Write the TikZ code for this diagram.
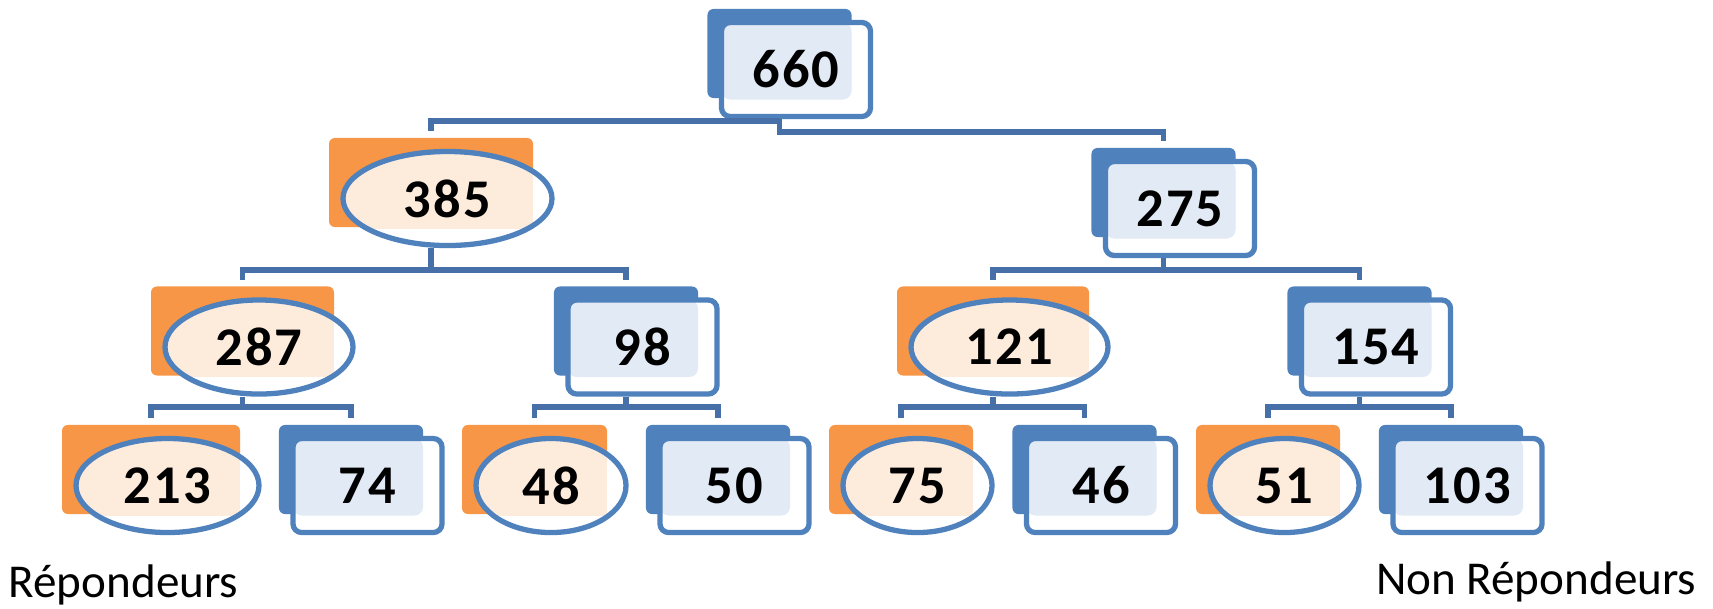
\documentclass[tikz,border=0pt]{standalone}
\usepackage{fontspec}
\setmainfont{Carlito}
\usetikzlibrary{shapes.geometric}
\definecolor{chartblue}{RGB}{79,129,189}
\definecolor{chartorange}{RGB}{247,150,70}
\definecolor{linkblue}{RGB}{70,112,167}
\definecolor{bluefill}{RGB}{226,234,245}
\definecolor{orangefill}{RGB}{253,235,220}
\tikzset{
  back/.style={rectangle, rounded corners=1.7pt, inner sep=0pt, minimum height=0.89cm},
  blue back/.style={back, fill=chartblue, minimum width=1.44cm},
  orange back/.style={back, fill=chartorange},
  front/.style={draw=chartblue, fill=white, inner sep=0pt, minimum height=0.94cm, line width=1.5pt,
    font=\bfseries\fontsize{15.5}{18}\selectfont\addfontfeature{LetterSpace=4},
    path picture={\fill[#1] (path picture bounding box.north west) rectangle ([shift={(-1.9mm,1.7mm)}]path picture bounding box.south east);}},
  blue front/.style={front=bluefill, rectangle, rounded corners=2.5pt, minimum width=1.49cm},
  orange front/.style={front=orangefill, ellipse},
  link/.style={draw=linkblue, line width=1.6pt},
  caption/.style={inner sep=0pt, font=\fontsize{13.4}{16}\selectfont}
}
\begin{document}
\begin{tikzpicture}[x=0.01cm, y=-0.01cm]
  \useasboundingbox (0,0) rectangle (1713,608);
  % blue units
  \foreach \n/\x/\y in {660/779.5/53.5, 275/1163.5/192.5, 98/626/331, 154/1359.5/331,
                        74/351/469.5, 50/718/469.5, 46/1084.5/469.5, 103/1451/469.5}{
    \node[blue back] (b\n) at (\x,\y) {};
    \node[blue front] (n\n) at ([shift={(16.5,16)}]b\n) {\n};
  }
  % orange units
  \foreach \n/\x/\y/\w in {385/431/182.5/204, 287/242.5/331/183, 121/993/331/192,
                           213/151/469.5/178, 48/534.5/469.5/145, 75/901/469.5/144, 51/1268/469.5/144}{
    \node[orange back, minimum width={\w*0.01cm}] (b\n) at (\x,\y) {};
    \node[orange front, minimum width={(\w+5)*0.01cm}] (n\n) at ([shift={(16.5,16)}]b\n) {\n};
  }
  % links
  \draw[link] (b660 |- n660.south) -- (b660 |- 0,132) -| ([yshift=.6mm]b275.north);
  \draw[link] (b660 |- 0,121) -| ([yshift=.6mm]b385.north);
  \foreach \p/\l/\r/\yb in {385/287/98/270, 275/121/154/270, 287/213/74/407,
                            98/48/50/407, 121/75/46/407, 154/51/103/407}{
    \draw[link] (b\p |- n\p.south) -- (b\p |- 0,\yb);
    \draw[link] ([yshift=.6mm]b\l.north) |- (b\p |- 0,\yb) -| ([yshift=.6mm]b\r.north);
  }
  \node[caption, anchor=base west] (rep) at (8,597) {Répondeurs};
  \node[caption, anchor=base east] (nonrep) at (1697,594) {Non Répondeurs};
\end{tikzpicture}
\end{document}
